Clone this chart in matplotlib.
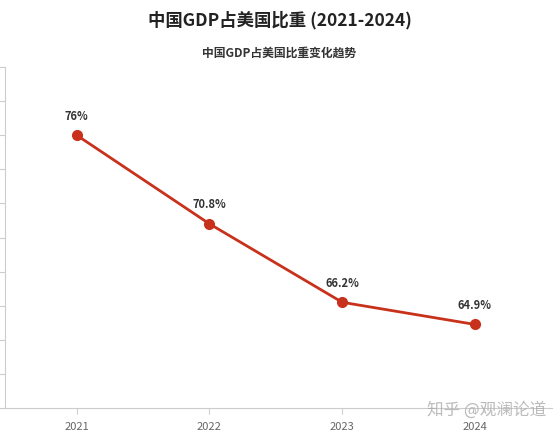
import matplotlib.pyplot as plt

plt.rcParams['font.family'] = ['Noto Sans CJK SC', 'DejaVu Sans']

years = ["2021", "2022", "2023", "2024"]
share = [76, 70.8, 66.2, 64.9]
labels = ["76%", "70.8%", "66.2%", "64.9%"]

W, H = 559, 433
fig = plt.figure(figsize=(W / 100, H / 100), dpi=100)
ax = fig.add_axes([5 / W, 1 - 408 / H, (552 - 5) / W, (408 - 67) / H])

x = range(len(years))
ax.plot(x, share, color="#c8321c", lw=2.0, marker="o", ms=7, zorder=3)
for xi, v, t in zip(x, share, labels):
    ax.annotate(t, (xi, v), xytext=(0, 9), textcoords="offset points",
                ha="center", va="bottom", fontsize=8, fontweight="bold",
                color="#333333")

ax.set_ylim(60, 80)
ax.set_yticks(range(60, 81, 2))
ax.set_yticklabels([])
ax.set_xlim(-0.54, 3.58)
ax.set_xticks(list(x))
ax.set_xticklabels(years, fontsize=8, color="#666666")
for s in ["top", "right"]:
    ax.spines[s].set_visible(False)
for s in ["left", "bottom"]:
    ax.spines[s].set_color("#cccccc")
ax.tick_params(axis="y", length=4, color="#cccccc")
ax.tick_params(axis="x", length=4, color="#cccccc", pad=6)

fig.text(0.5, 1 - 20 / H, "中国GDP占美国比重 (2021-2024)", ha="center", va="center",
         fontsize=12.5, fontweight="bold", color="#222222")
fig.text(0.5, 1 - 53 / H, "中国GDP占美国比重变化趋势", ha="center", va="center",
         fontsize=8.5, fontweight="bold", color="#333333")
fig.text(487 / W, 1 - 410 / H, "知乎 @观澜论道", ha="center", va="center",
         fontsize=12, color="#aaaaaa", alpha=0.8)

fig.savefig("out.png", dpi=100)
